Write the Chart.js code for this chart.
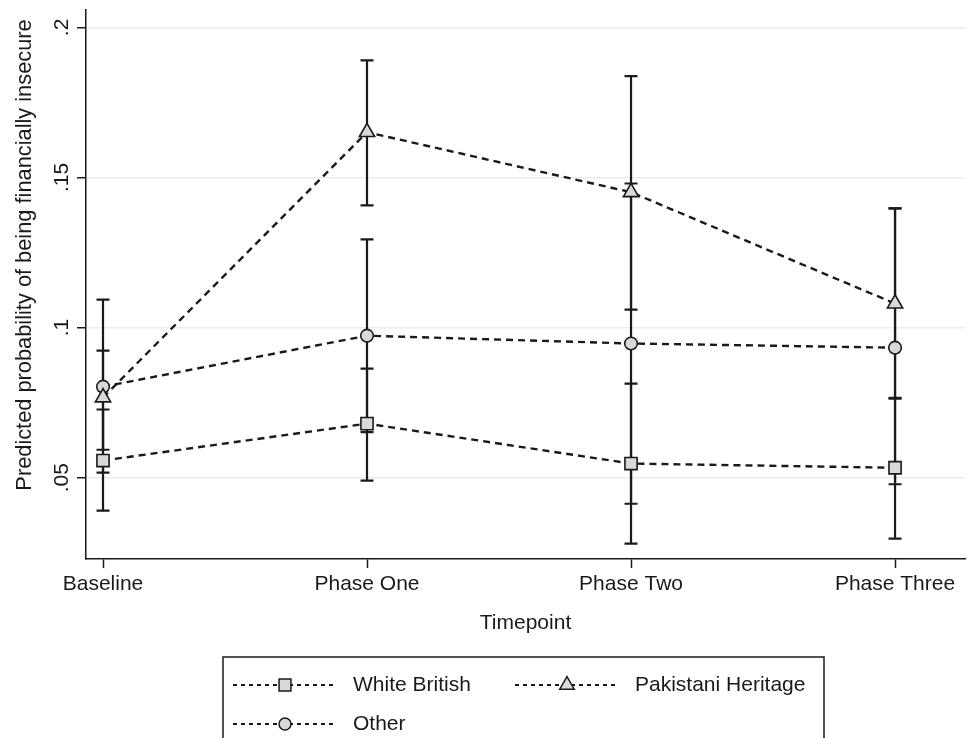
<!DOCTYPE html>
<html>
<head>
<meta charset="utf-8">
<title>Predicted probability of being financially insecure</title>
<script src="https://cdn.jsdelivr.net/npm/chart.js@4.4.1/dist/chart.umd.min.js"></script>
<style>
  html, body { margin: 0; padding: 0; background: #fff; }
  canvas { display: block; }
</style>
</head>
<body>
<canvas id="chart" width="970" height="738"></canvas>
<script>
// --- data ---
const timepoints = ["Baseline", "Phase One", "Phase Two", "Phase Three"];
const yTicks = [0.05, 0.1, 0.15, 0.2];

const whiteBritish   = [0.0557, 0.0680, 0.0547, 0.0533];
const whiteBritishLo = [0.0390, 0.0490, 0.0280, 0.0297];
const whiteBritishHi = [0.0727, 0.0863, 0.0813, 0.0766];

const pakistani   = [0.0767, 0.1651, 0.1451, 0.1080];
const pakistaniLo = [0.0593, 0.1407, 0.1060, 0.0763];
const pakistaniHi = [0.0923, 0.1890, 0.1838, 0.1397];

const other   = [0.0803, 0.0973, 0.0947, 0.0933];
const otherLo = [0.0517, 0.0652, 0.0413, 0.0478];
const otherHi = [0.1093, 0.1294, 0.1480, 0.1397];

const ink = '#1a1a1a';
const markerFill = '#d9d9d9';
const fontFamily = '"Liberation Sans", Arial, Helvetica, sans-serif';
const font = (s) => `${s}px ${fontFamily}`;

const toPoints = (vals) => vals.map((v, i) => ({ x: i, y: v }));
const fmtTick = (v) => String(v).replace(/^0/, '');

function series(label, vals, style, radius) {
    return {
        label,
        data: toPoints(vals),
        borderColor: ink,
        borderWidth: 2.4,
        borderDash: [7, 5],
        pointStyle: style,
        pointRadius: radius,
        pointBackgroundColor: markerFill,
        pointBorderColor: ink,
        pointBorderWidth: 1.6,
        tension: 0
    };
}

const datasets = [
    series('White British', whiteBritish, 'rect', 8.6),
    series('Pakistani Heritage', pakistani, 'triangle', 8.8),
    series('Other', other, 'circle', 6.3)
];
const ciLo = [whiteBritishLo, pakistaniLo, otherLo];
const ciHi = [whiteBritishHi, pakistaniHi, otherHi];

// error bars go under the markers
const errorBars = {
    id: 'errorBars',
    beforeDatasetsDraw(chart) {
        const { ctx, scales: { x, y } } = chart;
        ctx.save();
        ctx.strokeStyle = ink;
        ctx.lineWidth = 2.2;
        ciLo.forEach((lo, d) => {
            lo.forEach((v, i) => {
                const px = x.getPixelForValue(i);
                const y1 = y.getPixelForValue(v);
                const y2 = y.getPixelForValue(ciHi[d][i]);
                ctx.beginPath();
                ctx.moveTo(px, y1); ctx.lineTo(px, y2);
                ctx.moveTo(px - 6.5, y1); ctx.lineTo(px + 6.5, y1);
                ctx.moveTo(px - 6.5, y2); ctx.lineTo(px + 6.5, y2);
                ctx.stroke();
            });
        });
        ctx.restore();
    }
};

// tick labels, axis titles and the boxed legend
const axisText = {
    id: 'axisText',
    afterDraw(chart) {
        const { ctx, chartArea: area, scales: { x, y } } = chart;
        ctx.save();
        ctx.fillStyle = ink;
        ctx.font = font(21);
        ctx.textAlign = 'center';
        ctx.textBaseline = 'middle';

        x.ticks.forEach(t => {
            ctx.fillText(timepoints[t.value], x.getPixelForValue(t.value), area.bottom + 25);
        });
        ctx.fillText('Timepoint', (area.left + area.right) / 2, area.bottom + 64);

        y.ticks.forEach(t => {
            ctx.save();
            ctx.translate(area.left - 24, y.getPixelForValue(t.value));
            ctx.rotate(-Math.PI / 2);
            ctx.fillText(fmtTick(t.value), 0, 0);
            ctx.restore();
        });

        ctx.save();
        ctx.font = font(21.8);
        ctx.translate(25, 255);
        ctx.rotate(-Math.PI / 2);
        ctx.fillText('Predicted probability of being financially insecure', 0, 0);
        ctx.restore();

        // legend box (runs off the bottom like the original)
        ctx.strokeStyle = ink;
        ctx.lineWidth = 1.5;
        ctx.strokeRect(223, 657, 601, 100);

        const slots = [[233, 685], [515, 685], [233, 724]];
        chart.data.datasets.forEach((ds, i) => {
            const [lx, ly] = slots[i];
            ctx.save();
            ctx.lineWidth = 2;
            ctx.setLineDash([4, 4]);
            ctx.beginPath();
            ctx.moveTo(lx, ly); ctx.lineTo(lx + 100, ly);
            ctx.stroke();
            ctx.restore();
            ctx.fillStyle = markerFill;
            ctx.strokeStyle = ink;
            Chart.helpers.drawPoint(ctx, {
                pointStyle: ds.pointStyle,
                radius: ds.pointStyle === 'circle' ? 6 : 8.4,
                borderWidth: 1.8,
                rotation: 0
            }, lx + 52, ly);
            ctx.fillStyle = ink;
            ctx.textAlign = 'left';
            ctx.fillText(ds.label, lx + 120, ly);
        });
        ctx.restore();
    }
};

new Chart(document.getElementById('chart'), {
    type: 'line',
    data: { datasets },
    options: {
        responsive: false,
        animation: false,
        layout: { autoPadding: false, padding: { left: 77, right: 5, top: 10, bottom: 170 } },
        plugins: { legend: { display: false }, tooltip: { enabled: false } },
        scales: {
            x: {
                type: 'linear',
                min: -0.0644,
                max: 3.265,
                afterBuildTicks: (s) => { s.ticks = timepoints.map((_, i) => ({ value: i })); },
                ticks: { display: false },
                grid: { color: 'rgba(0,0,0,0)', tickColor: ink, tickLength: 9, tickWidth: 1.5, drawTicks: true },
                border: { display: true, color: ink, width: 1.5 }
            },
            y: {
                min: 0.0229,
                max: 0.2058,
                afterBuildTicks: (s) => { s.ticks = yTicks.map(v => ({ value: v })); },
                ticks: { display: false },
                grid: { color: '#ebebeb', lineWidth: 1.5, tickColor: ink, tickLength: 9, tickWidth: 1.5, drawTicks: true },
                border: { display: true, color: ink, width: 1.5 }
            }
        }
    },
    plugins: [errorBars, axisText]
});
</script>
</body>
</html>
